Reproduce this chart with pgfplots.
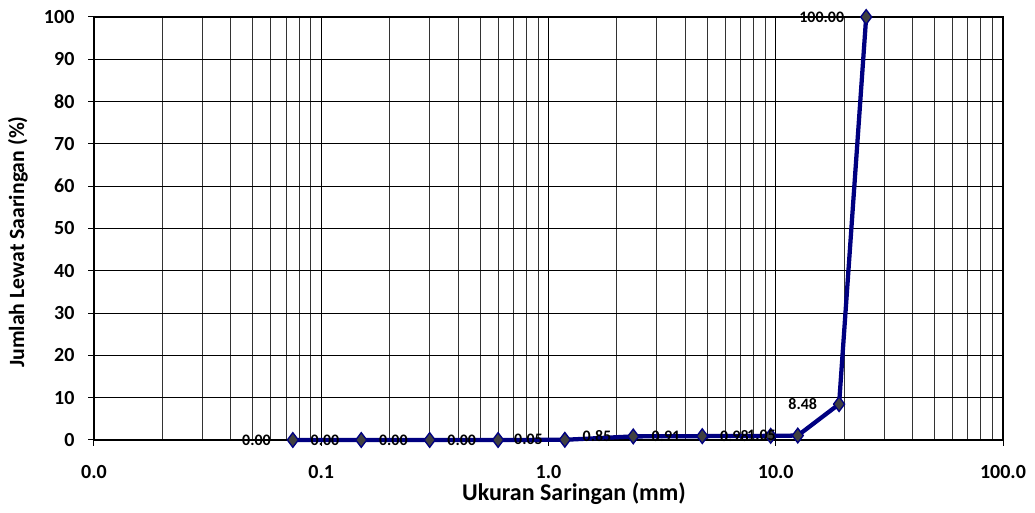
\documentclass[border=0pt]{standalone}
\usepackage{fontspec}
\setmainfont{Carlito}
\usepackage{pgfplots}
\pgfplotsset{compat=1.18}
\definecolor{navyline}{RGB}{0,0,128}
\definecolor{markgray}{RGB}{64,64,64}
\begin{document}
\begin{tikzpicture}
\begin{axis}[
  name=ax,
  scale only axis,
  width=681.75pt, height=317.25pt,
  xmode=log,
  xmin=0.01, xmax=100,
  ymin=0, ymax=100,
  ytick={0,10,...,100},
  xtick={0.01,0.1,1,10,100},
  xticklabels={0.0,0.1,1.0,10.0,100.0},
  minor xtick={0.02,0.03,0.04,0.05,0.06,0.07,0.08,0.09,
               0.2,0.3,0.4,0.5,0.6,0.7,0.8,0.9,
               2,3,4,5,6,7,8,9,
               20,30,40,50,60,70,80,90},
  grid=both,
  major grid style={black, line width=0.75pt},
  minor grid style={black!80, line width=0.75pt},
  tick align=outside,
  major tick length=4.5pt,
  minor tick length=0pt,
  xtick pos=bottom, ytick pos=left,
  axis line style={line width=1.5pt},
  tick style={black, line width=0.75pt},
  /pgf/number format/assume math mode=true,
  ticklabel style={font=\fontsize{15}{15}\selectfont\bfseries, inner sep=0pt},
  xticklabel style={yshift=-14pt},
  yticklabel style={xshift=-10pt},
  xlabel={Ukuran Saringan (mm)},
  ylabel={Jumlah Lewat Saaringan (\%)},
  xlabel style={font=\fontsize{18}{18}\selectfont\bfseries, at={(axis description cs:0.528,-0.1277)}, anchor=center},
  ylabel style={font=\fontsize{16.3}{16.3}\selectfont\bfseries, at={(axis description cs:-0.0836,0.468)}, anchor=center},
  clip=false,
  nodes near coords={\pgfmathprintnumber[fixed,fixed zerofill,precision=2]{\pgfplotspointmeta}},
  every node near coord/.append style={anchor=east, xshift=-16pt, inner sep=0pt, font=\fontsize{12}{12}\selectfont\bfseries, text=black},
]
\addplot[color=navyline, line width=3.2pt, mark=diamond*, mark size=5.5pt,
  mark options={fill=markgray, draw=navyline, line width=1pt}, point meta=y]
coordinates {
(0.075,0.00)
(0.15,0.00)
(0.3,0.00)
(0.6,0.00)
(1.18,0.05)
(2.36,0.85)
(4.75,0.91)
(9.5,0.98)
(12.5,1.05)
(19,8.48)
(25,100.00)
};
\end{axis}
\pgfresetboundingbox
\useasboundingbox ([xshift=-70.5pt,yshift=-54.75pt]ax.south west) rectangle ([xshift=24pt,yshift=12.75pt]ax.north east);
\end{tikzpicture}
\end{document}
